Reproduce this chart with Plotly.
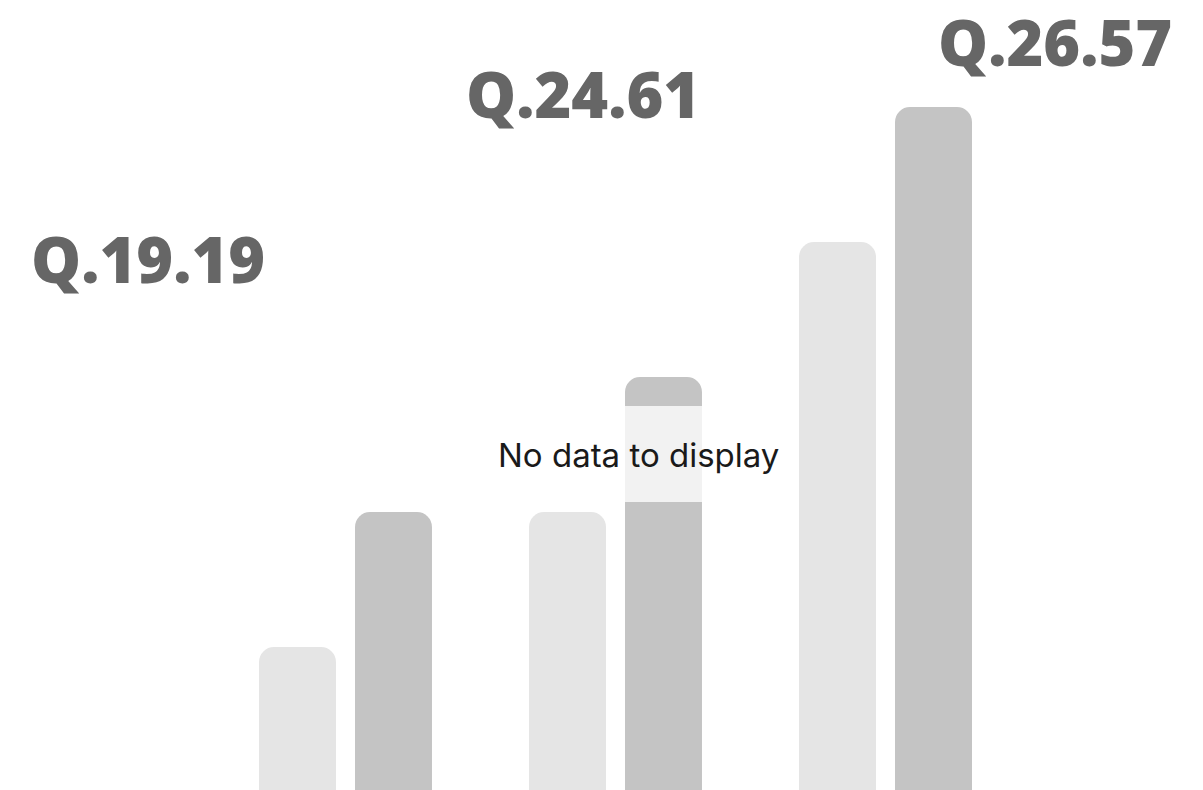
import plotly.graph_objects as go

categories = ["A", "B", "C"]
light_values = [14.3, 27.8, 54.8]
dark_values = [27.8, 41.3, 68.3]
label_texts = ["Q.19.19", "Q.24.61", "Q.26.57"]
label_x = [148, 583, 1055]
label_y = [258, 94, 41]
message = "No data to display"

W, H = 1203, 790

fig = go.Figure()
fig.add_trace(go.Bar(x=[0, 1, 2], y=light_values, marker_color="#e5e5e5",
                     marker_line_width=0, hoverinfo="skip"))
fig.add_trace(go.Bar(x=[0, 1, 2], y=dark_values, marker_color="#c4c4c4",
                     marker_line_width=0, hoverinfo="skip"))

annotations = []
for t, px, py in zip(label_texts, label_x, label_y):
    annotations.append(dict(text=t, x=px / W, y=1 - py / H,
                            xref="paper", yref="paper", showarrow=False,
                            xanchor="center", yanchor="middle",
                            font=dict(family="Open Sans", size=63, weight=800, color="#666666")))
annotations.append(dict(text=message, x=638 / W, y=1 - 455 / H, xref="paper", yref="paper",
                        showarrow=False, xanchor="center", yanchor="middle",
                        font=dict(family="Inter", size=33, color="#1a1a1a")))

fig.update_layout(
    width=W, height=H,
    margin=dict(l=0, r=0, t=0, b=0),
    paper_bgcolor="white", plot_bgcolor="white",
    barmode="group", bargap=0.289, bargroupgap=0.198, barcornerradius=15,
    showlegend=False, hovermode=False,
    xaxis=dict(range=[-1.2796, 3.1759], visible=False, fixedrange=True),
    yaxis=dict(range=[0, 79], visible=False, fixedrange=True),
    annotations=annotations,
    shapes=[dict(type="rect", xref="paper", yref="paper",
                 x0=490 / W, x1=790 / W, y0=1 - 502 / H, y1=1 - 406 / H,
                 fillcolor="rgba(255,255,255,0.78)", line_width=0, layer="above")],
)

fig.write_html("out.html", config={"displayModeBar": False},
               post_script="document.body.style.margin='0';document.body.style.overflow='hidden';")
